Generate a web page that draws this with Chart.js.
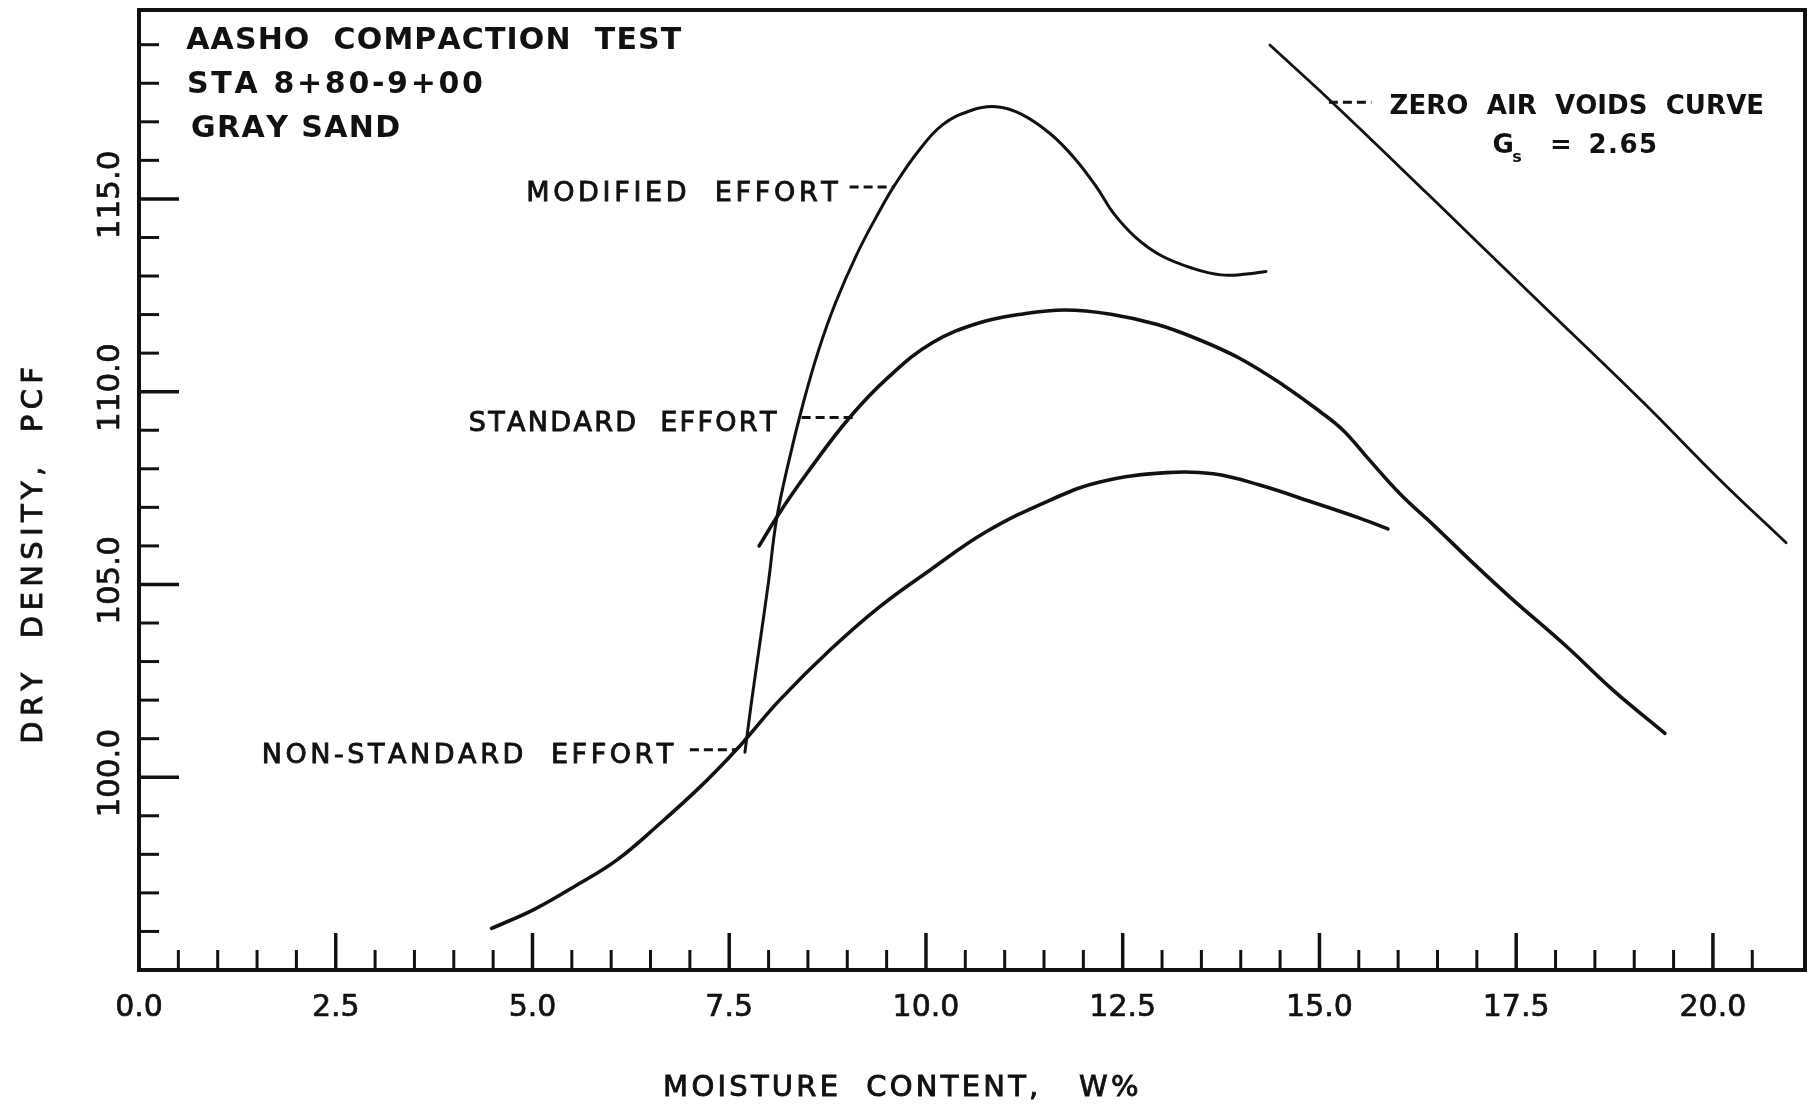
<!DOCTYPE html>
<html>
<head>
<meta charset="utf-8">
<script src="https://cdn.jsdelivr.net/npm/chart.js@4.4.1/dist/chart.umd.min.js"></script>
<style>
  html, body { margin: 0; padding: 0; background: #fff; }
  #wrap { width: 1809px; height: 1106px; position: relative; }
</style>
</head>
<body>
<div id="wrap"><canvas id="chart"></canvas></div>
<script>
/* ===== AASHO compaction test, STA 8+80 - 9+00, gray sand ===== */
const INK = '#111';
const FONT = '"DejaVu Sans", "Liberation Sans", sans-serif';

// moisture content (W%) and dry density (pcf)
const modifiedMoisture = [7.70, 7.78, 7.89, 8.00, 8.10, 8.26, 8.44, 8.63, 8.85, 9.13, 9.40, 9.60, 9.90, 10.21, 10.58, 10.89, 11.21, 11.58, 11.89, 12.17, 12.39, 12.66, 12.98, 13.39, 13.75, 14.07, 14.32];
const modifiedDensity  = [100.65, 101.91, 103.49, 105.08, 106.67, 108.22, 109.70, 111.04, 112.30, 113.60, 114.65, 115.35, 116.23, 116.92, 117.30, 117.39, 117.20, 116.69, 116.05, 115.30, 114.61, 114.01, 113.54, 113.20, 113.03, 113.05, 113.12];

const standardMoisture = [7.88, 8.13, 8.49, 9.03, 9.53, 10.08, 10.67, 11.21, 11.76, 12.35, 12.94, 13.48, 13.99, 14.54, 15.01, 15.30, 15.60, 16.02, 16.45, 16.96, 17.46, 18.14, 18.73, 19.39];
const standardDensity  = [106.00, 106.83, 107.89, 109.33, 110.39, 111.27, 111.78, 112.01, 112.12, 112.01, 111.74, 111.34, 110.86, 110.17, 109.48, 109.00, 108.31, 107.36, 106.54, 105.54, 104.60, 103.39, 102.26, 101.14];

const nonStdMoisture = [4.48, 5.01, 5.56, 6.07, 6.62, 7.13, 7.59, 7.72, 8.14, 8.78, 9.41, 10.05, 10.76, 11.58, 12.21, 13.06, 13.65, 14.24, 14.96, 15.51, 15.87];
const nonStdDensity  = [96.08, 96.56, 97.20, 97.85, 98.80, 99.75, 100.71, 101.01, 102.00, 103.30, 104.42, 105.37, 106.36, 107.19, 107.66, 107.90, 107.87, 107.58, 107.10, 106.72, 106.44];

const zavMoisture = [14.37, 15.16, 16.39, 17.75, 19.11, 20.09, 20.93];
const zavDensity  = [118.99, 117.51, 115.10, 112.41, 109.73, 107.71, 106.08];

const xTickLabels = ['0.0', '2.5', '5.0', '7.5', '10.0', '12.5', '15.0', '17.5', '20.0'];
const yTickLabels = ['100.0', '105.0', '110.0', '115.0'];

// tick marks: every 0.5 % along x (last one at 20.5), every 1 pcf along y
const xTickMarks = [];
for (let v = 0.5; v <= 20.5 + 1e-9; v += 0.5) xTickMarks.push(+v.toFixed(1));
const yTickMarks = [];
for (let v = 96; v <= 119; v++) yTickMarks.push(v);

/* ===== lettering on the sheet (data coordinates) ===== */
const notes = [
  { text: 'AASHO  COMPACTION  TEST', x0: 0.60, x1: 6.89, y: 119.17, size: 30, bold: true },
  { text: 'STA 8+80-9+00',           x0: 0.61, x1: 4.37, y: 118.03, size: 30, bold: true },
  { text: 'GRAY SAND',               x0: 0.66, x1: 3.32, y: 116.89, size: 30, bold: true },
  { text: 'MODIFIED  EFFORT',        x0: 4.92, x1: 8.88, y: 115.19, size: 27, heavy: true },
  { text: 'STANDARD  EFFORT',        x0: 4.19, x1: 8.10, y: 109.24, size: 27, heavy: true },
  { text: 'NON-STANDARD  EFFORT',    x0: 1.56, x1: 6.79, y: 100.62, size: 27, heavy: true },
  { text: 'ZERO  AIR  VOIDS  CURVE', x0: 15.89, x1: 20.65, y: 117.45, size: 26, bold: true },
  { text: 'G',    x0: 17.20, x1: 17.20, y: 116.45, size: 26, bold: true },
  { text: 's',    x0: 17.45, x1: 17.45, y: 116.12, size: 16, bold: true },
  { text: '=',    x0: 17.93, x1: 17.93, y: 116.45, size: 26, bold: true },
  { text: '2.65', x0: 18.42, x1: 19.29, y: 116.45, size: 26, bold: true }
];

const leaders = [
  { x0: 9.03, x1: 9.60, y: 115.31 },
  { x0: 8.42, x1: 9.08, y: 109.33 },
  { x0: 7.00, x1: 7.59, y: 100.71 },
  { x0: 15.12, x1: 15.66, y: 117.51 }
];

// spread the characters of a string evenly between x0 and x1
function letter(ctx, text, x0, x1, yMid, size, bold, heavy) {
  ctx.font = `${bold ? 'bold ' : ''}${size}px ${FONT}`;
  ctx.textAlign = 'left';
  ctx.textBaseline = 'alphabetic';
  ctx.lineWidth = 0.9;
  const chars = [...text];
  const w = chars.map(c => ctx.measureText(c).width);
  const total = w.reduce((s, v) => s + v, 0);
  const gap = chars.length > 1 ? (x1 - x0 - total) / (chars.length - 1) : 0;
  const base = yMid + size * 0.365;
  let cx = x0;
  chars.forEach((c, i) => {
    ctx.fillText(c, cx, base);
    if (heavy) ctx.strokeText(c, cx, base);
    cx += w[i] + gap;
  });
}

const sheet = {
  id: 'sheet',
  afterDraw(chart) {
    const { ctx, chartArea: a, scales: { x, y } } = chart;
    const px = v => x.getPixelForValue(v);
    const py = v => y.getPixelForValue(v);
    ctx.save();
    ctx.strokeStyle = INK;
    ctx.fillStyle = INK;

    // frame
    ctx.lineWidth = 4;
    ctx.strokeRect(a.left, a.top, a.right - a.left, a.bottom - a.top);

    // inward tick marks
    x.ticks.forEach(t => {
      const major = Math.abs(t.value / 2.5 - Math.round(t.value / 2.5)) < 1e-6;
      ctx.lineWidth = major ? 3.5 : 3;
      ctx.beginPath();
      ctx.moveTo(px(t.value), a.bottom);
      ctx.lineTo(px(t.value), a.bottom - (major ? 37 : 20));
      ctx.stroke();
    });
    y.ticks.forEach(t => {
      const major = t.value % 5 === 0;
      ctx.lineWidth = major ? 3.5 : 3;
      ctx.beginPath();
      ctx.moveTo(a.left, py(t.value));
      ctx.lineTo(a.left + (major ? 40 : 20), py(t.value));
      ctx.stroke();
    });

    // tick labels
    ctx.font = `30px ${FONT}`;
    ctx.textAlign = 'center';
    ctx.textBaseline = 'alphabetic';
    ctx.lineWidth = 0.7;
    xTickLabels.forEach(l => {
      ctx.fillText(l, px(parseFloat(l)), a.bottom + 46);
      ctx.strokeText(l, px(parseFloat(l)), a.bottom + 46);
    });
    ctx.font = `31px ${FONT}`;
    yTickLabels.forEach(l => {
      ctx.save();
      ctx.translate(a.left - 31, py(parseFloat(l)) - 4);
      ctx.rotate(-Math.PI / 2);
      ctx.fillText(l, 0, 11);
      ctx.strokeText(l, 0, 11);
      ctx.restore();
    });

    // axis titles
    letter(ctx, 'MOISTURE  CONTENT,   W%', px(6.66), px(12.70), a.bottom + 115, 29, false, true);
    ctx.save();
    ctx.translate(a.left - 108, py(100.87));
    ctx.rotate(-Math.PI / 2);
    letter(ctx, 'DRY  DENSITY,  PCF', 0, py(100.87) - py(110.64), 0, 29, false, true);
    ctx.restore();

    // leader lines
    ctx.lineWidth = 3;
    ctx.setLineDash([9, 5]);
    leaders.forEach(d => {
      ctx.beginPath();
      ctx.moveTo(px(d.x0), py(d.y));
      ctx.lineTo(px(d.x1), py(d.y));
      ctx.stroke();
    });
    ctx.setLineDash([]);

    // notes
    notes.forEach(n => letter(ctx, n.text, px(n.x0), px(n.x1), py(n.y), n.size, n.bold, n.heavy));
    ctx.restore();
  }
};

function curve(xs, ys, width) {
  return {
    data: xs.map((v, i) => ({ x: v, y: ys[i] })),
    showLine: true,
    borderColor: INK,
    borderWidth: width,
    borderCapStyle: 'round',
    borderJoinStyle: 'round',
    pointRadius: 0,
    tension: 0.4
  };
}

new Chart(document.getElementById('chart'), {
  type: 'scatter',
  data: {
    datasets: [
      curve(modifiedMoisture, modifiedDensity, 3),
      curve(standardMoisture, standardDensity, 3.6),
      curve(nonStdMoisture, nonStdDensity, 3.6),
      curve(zavMoisture, zavDensity, 2.8)
    ]
  },
  options: {
    responsive: true,
    maintainAspectRatio: false,
    animation: false,
    layout: { padding: { left: 139, right: 4, top: 10, bottom: 136 } },
    plugins: { legend: { display: false }, tooltip: { enabled: false } },
    scales: {
      x: {
        type: 'linear', min: 0, max: 21.17,
        grid: { display: false, drawTicks: false },
        border: { display: false },
        ticks: { display: false },
        afterBuildTicks: s => { s.ticks = xTickMarks.map(value => ({ value })); }
      },
      y: {
        type: 'linear', min: 95, max: 119.9,
        grid: { display: false, drawTicks: false },
        border: { display: false },
        ticks: { display: false },
        afterBuildTicks: s => { s.ticks = yTickMarks.map(value => ({ value })); }
      }
    }
  },
  plugins: [sheet]
});
</script>
</body>
</html>
